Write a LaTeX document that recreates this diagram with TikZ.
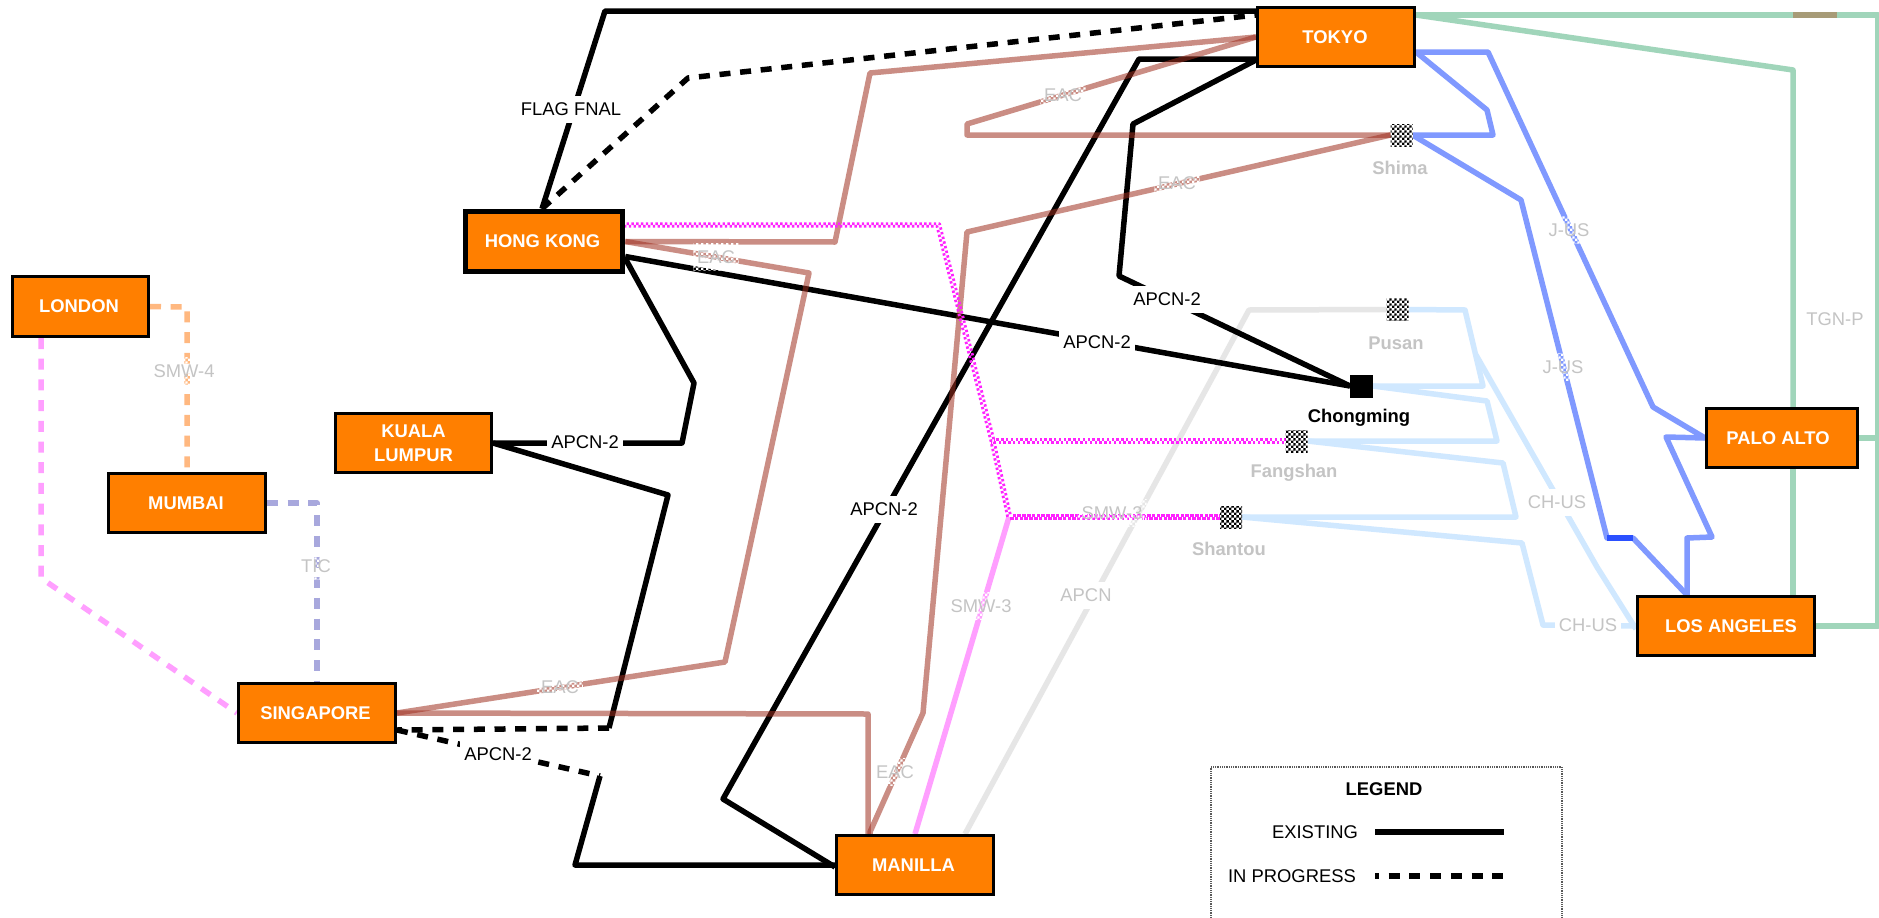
\documentclass[tikz,border=0pt]{standalone}
\usepackage{fontspec}
\setmainfont{Liberation Sans}
\usetikzlibrary{patterns,backgrounds,calc}
\pgfdeclarepatternformonly{chkpat}{\pgfpointorigin}{\pgfqpoint{4.8pt}{4.8pt}}{\pgfqpoint{4.8pt}{4.8pt}}{%
  \pgfpathrectangle{\pgfpointorigin}{\pgfqpoint{2.4pt}{2.4pt}}%
  \pgfpathrectangle{\pgfqpoint{2.4pt}{2.4pt}}{\pgfqpoint{2.4pt}{2.4pt}}%
  \pgfusepath{fill}}
\definecolor{cityor}{HTML}{FF7F00}
\definecolor{eacc}{HTML}{A03020}
\definecolor{jus}{HTML}{8099FF}
\definecolor{jusd}{HTML}{2B50FF}
\definecolor{tgn}{HTML}{A0D5BA}
\definecolor{tgnb}{HTML}{A79B77}
\definecolor{chus}{HTML}{D0E8FF}
\definecolor{apcn}{HTML}{E6E6E6}
\definecolor{smwm}{HTML}{FF22FF}
\definecolor{smwp}{HTML}{FF9FFF}
\definecolor{smwf}{HTML}{FFB880}
\definecolor{tic}{HTML}{A8A8DD}
\definecolor{glab}{HTML}{C4C4C4}
\tikzset{
  base/.style={font=\fontsize{18.4}{24}\selectfont},
  city/.style={base,draw=black,fill=cityor,line width=3pt,text=white,inner sep=0pt,align=center,font=\fontsize{18.4}{24}\selectfont\bfseries},
  station/.style={preaction={fill=white},pattern=chkpat,pattern color=black,inner sep=0pt,outer sep=0pt,minimum size=22pt},
  stlabel/.style={font=\fontsize{18.4}{24}\selectfont\bfseries,text=glab,inner sep=0pt},
  blabel/.style={base,fill=white,inner xsep=4pt,inner ysep=0pt,minimum height=27pt,text=black},
  wlabel/.style={base,fill=white,inner xsep=4pt,inner ysep=0pt,minimum height=27pt,text=glab},
  glabel/.style={base,pattern=chkpat,pattern color=white,inner xsep=4pt,inner ysep=0pt,minimum height=27pt,text=glab},
  conn/.style={line width=5.5pt,line join=round},
  ddash/.style={dash pattern=on 11pt off 9.7pt},
  blk/.style={conn,draw=black},
  eac/.style={conn,draw=eacc,draw opacity=.55},
  jusl/.style={conn,draw=jus},
  tgnl/.style={conn,draw=tgn},
  chl/.style={conn,draw=chus},
  apl/.style={conn,draw=apcn},
  mgt/.style={line width=2.8pt,draw=smwm,dash pattern=on 2.4pt off 2.4pt,line join=round},
}
\begin{document}
\begin{tikzpicture}[x=1pt,y=-1pt]
\useasboundingbox (0,0) rectangle (1879,918);

% cities
\node[city,line width=5.5pt,minimum width=157pt,minimum height=60pt] (hk) at (544,241.5) {HONG KONG\kern3pt};
\node[city,minimum width=157pt,minimum height=59pt] (tokyo) at (1336,37) {TOKYO\kern2pt};
\node[city,minimum width=136pt,minimum height=60pt] (london) at (80.5,306.5) {LONDON\kern3pt};
\node[city,minimum width=157pt,minimum height=59pt] (mumbai) at (187,503) {MUMBAI\kern2pt};
\node[city,minimum width=156pt,minimum height=59pt] (kl) at (413.5,443) {KUALA\\LUMPUR};
\node[city,minimum width=157pt,minimum height=59pt] (sg) at (317,713) {SINGAPORE\kern3pt};
\node[city,minimum width=157pt,minimum height=59pt] (ml) at (915,865) {MANILLA\kern3pt};
\node[city,minimum width=151pt,minimum height=59pt] (pa) at (1782,438) {PALO ALTO\kern8pt};
\node[city,minimum width=177pt,minimum height=59pt] (la) at (1726,626) {\kern10pt LOS ANGELES};

% landing stations
\node[station] (shima) at (1401.5,135) {};
\node[station] (pusan) at (1397.5,309.5) {};
\node[station,preaction={},pattern=none,fill=black,minimum size=23pt] (chong) at (1361.5,386) {};
\node[station] (fang) at (1296.5,441) {};
\node[station] (shan) at (1231,517) {};

\begin{pgfonlayer}{background}
  \fill[white] (0,0) rectangle (1879,918);
  % APCN
  \draw[apl] ([xshift=50pt]ml.north) -- (1249,310) -- (pusan.west);
  % CH-US
  \draw[chl] (pusan.east) -- (1465,310) -- (1483,386) -- (chong.east);
  \draw[chl] (chong.east) -- (1487,401) -- (1497,441) -- (fang.east);
  \draw[chl] (fang.east) -- (1503,463) -- (1516,517) -- (shan.east);
  \draw[chl] (shan.east) -- (1522,543) -- (1543,625) -- (la.west);
  \coordinate (chj) at (1476,355);
  \draw[chl] (chj) -- (1597,567) -- ([yshift=-3pt]la.west);
  % TGN-P
  \draw[tgnl] ([yshift=22pt]tokyo.east) -- (1878,15) -- (1878,626) -- (la.east);
  \draw[tgnl] ([yshift=22pt]tokyo.east) -- (1793,70) -- ([xshift=11pt]pa.north);
  \draw[tgnl] ([xshift=11pt]pa.south) -- ([xshift=67pt]la.north);
  \draw[tgnl] (pa.east) -- (1880,438);
  \draw[conn,draw=tgnb,line cap=butt] (1793,15) -- (1837,15);
  % J-US
  \draw[jusl] ([yshift=-15pt]tokyo.east) -- (1488,52) -- (1653,407) -- (pa.west);
  \draw[jusl] ([yshift=-15pt]tokyo.east) -- (1487,110) -- (1493,135) -- (shima.east);
  \draw[jusl] (shima.east) -- (1521,200) -- (1607,538) -- (1633,538) -- ([xshift=-39pt]la.north);
  \draw[jusl] (pa.west) -- (1666,437) -- (1712,537) -- (1687,538) -- ([xshift=-39pt]la.north);
  \draw[conn,draw=jusd] (1607,538) -- (1633,538);
  % APCN-2 / FLAG
  \draw[blk] ([xshift=-2pt]hk.north) -- (605,11) -- ([yshift=26pt]tokyo.west);
  \draw[blk,ddash] ([xshift=-2pt]hk.north) -- (688,78) -- ([yshift=22pt]tokyo.west);
  \draw[blk] ([yshift=-15pt]hk.east) -- (chong.west);
  \draw[blk] ([yshift=-17pt]hk.east) -- (694,383) -- (682,443) -- (kl.east);
  \draw[blk] (kl.east) -- (668,495) -- (609,728);
  \draw[blk,ddash] (609,728) -- ([yshift=-17pt]sg.east);
  \draw[blk,ddash] ([yshift=-17pt]sg.east) -- (600,776);
  \draw[blk] (600,776) -- (575,865) -- (ml.west);
  \draw[blk] ([yshift=-22pt]tokyo.west) -- (1139,59) -- (723,799) -- ([yshift=-2pt]ml.west);
  \draw[blk] ([yshift=-23pt]tokyo.west) -- (1133,124) -- (1119,276) -- (chong.west);
  % EAC
  \draw[eac] (hk.east) -- (835,242) -- (870,73) -- (tokyo.west);
  \draw[eac] (tokyo.west) -- (967,124) -- (967,135) -- (shima.west);
  \draw[eac] (shima.west) -- (967,232) -- (923,713) -- (870,832) -- ([xshift=-45pt]ml.north);
  \draw[eac] (hk.east) -- (809,273) -- (725,662) -- (sg.east);
  \draw[eac] (sg.east) -- (868,714) -- ([xshift=-47pt]ml.north);
  % SMW-3
  \draw[conn,draw=smwp] (ml.north) -- (1009,517);
  \foreach \s in {1.3,-1.3}{
    \draw[mgt] ([xshift=\s pt,yshift=16.5pt+\s pt]hk.east) -- ++(313,0) -- ++(54,215) -- ++(17,77);
    \draw[mgt] ([xshift=\s pt,yshift=\s pt]fang.west) -- ++(-293,0);
    \draw[mgt] ([xshift=\s pt,yshift=\s pt]shan.west) -- ++(-211,0);
    \draw[mgt] ([xshift=1.2pt+\s pt,yshift=\s pt]shan.west) -- ++(-211,0);
  }
  % SMW-3 London, SMW-4, TIC
  \draw[conn,draw=smwp,ddash] ([xshift=-39.5pt]london.south) -- (41,578) -- (sg.west);
  \draw[conn,draw=smwf,ddash] (london.east) -- (187,307) -- (mumbai.north);
  \draw[conn,draw=tic,ddash] (mumbai.east) -- (317,503) -- (sg.north);
\end{pgfonlayer}

% labels
\node[blabel] (l1) at (571,109) {FLAG FNAL};
\node[blabel] (l2) at (1097,342) {APCN-2};
\node[blabel] (l3) at (585,442) {APCN-2};
\node[blabel] (l4) at (498,754) {APCN-2};
\node[blabel] (l5) at (884,509) {APCN-2};
\node[blabel] (l6) at (1167,299) {APCN-2};
\node[glabel] (e1) at (1063,95) {EAC};
\node[glabel] (e2) at (1177,183) {EAC};
\node[glabel] (e3) at (716,257) {EAC};
\node[glabel] (e4) at (560,687) {EAC};
\node[glabel] (e5) at (895,772) {EAC};
\node[glabel] (s1) at (1112,513) {SMW-3};
\node[glabel] (s2) at (981,606) {SMW-3};
\node[glabel] (s4) at (184,371) {SMW-4};
\node[glabel] (t1) at (316,566) {TIC};
\node[glabel] (j1) at (1569,230) {J-US};
\node[glabel] (j2) at (1563,367) {J-US};
\node[wlabel] (a1) at (1086,595) {APCN};
\node[wlabel] (c1) at (1557,502) {CH-US};
\node[wlabel] (c2) at (1588,625) {CH-US};
\node[base,text=glab,inner sep=0pt] (tg) at (1835,319) {TGN-P};

\node[stlabel] (nshima) at (1400,168) {Shima};
\node[stlabel] (npusan) at (1396,343) {Pusan};
\node[stlabel,text=black] (nchong) at (1359,418) {Chongming};
\node[stlabel] (nfang) at (1294,473) {Fangshan};
\node[stlabel] (nshan) at (1229,549) {Shantou};

% legend
\draw[line width=1.2pt,draw=black!65,dash pattern=on 1pt off 0.8pt] (1211,918) -- (1211,767) -- (1562,767) -- (1562,918);
\node[base,font=\fontsize{18.4}{24}\selectfont\bfseries,inner sep=0pt] (lg) at (1384,789) {LEGEND};
\node[base,inner sep=0pt] (lex) at (1315,832) {EXISTING};
\node[base,inner sep=0pt] (lip) at (1292,876) {IN PROGRESS};
\coordinate (la1) at (1375,832); \coordinate (la2) at (1504,832);
\coordinate (lb1) at (1375,876); \coordinate (lb2) at (1505,876);
\draw[blk] (la1) -- (la2);
\draw[blk,dash pattern=on 11pt off 9.7pt,dash phase=7pt] (lb1) -- (lb2);
\end{tikzpicture}
\end{document}
